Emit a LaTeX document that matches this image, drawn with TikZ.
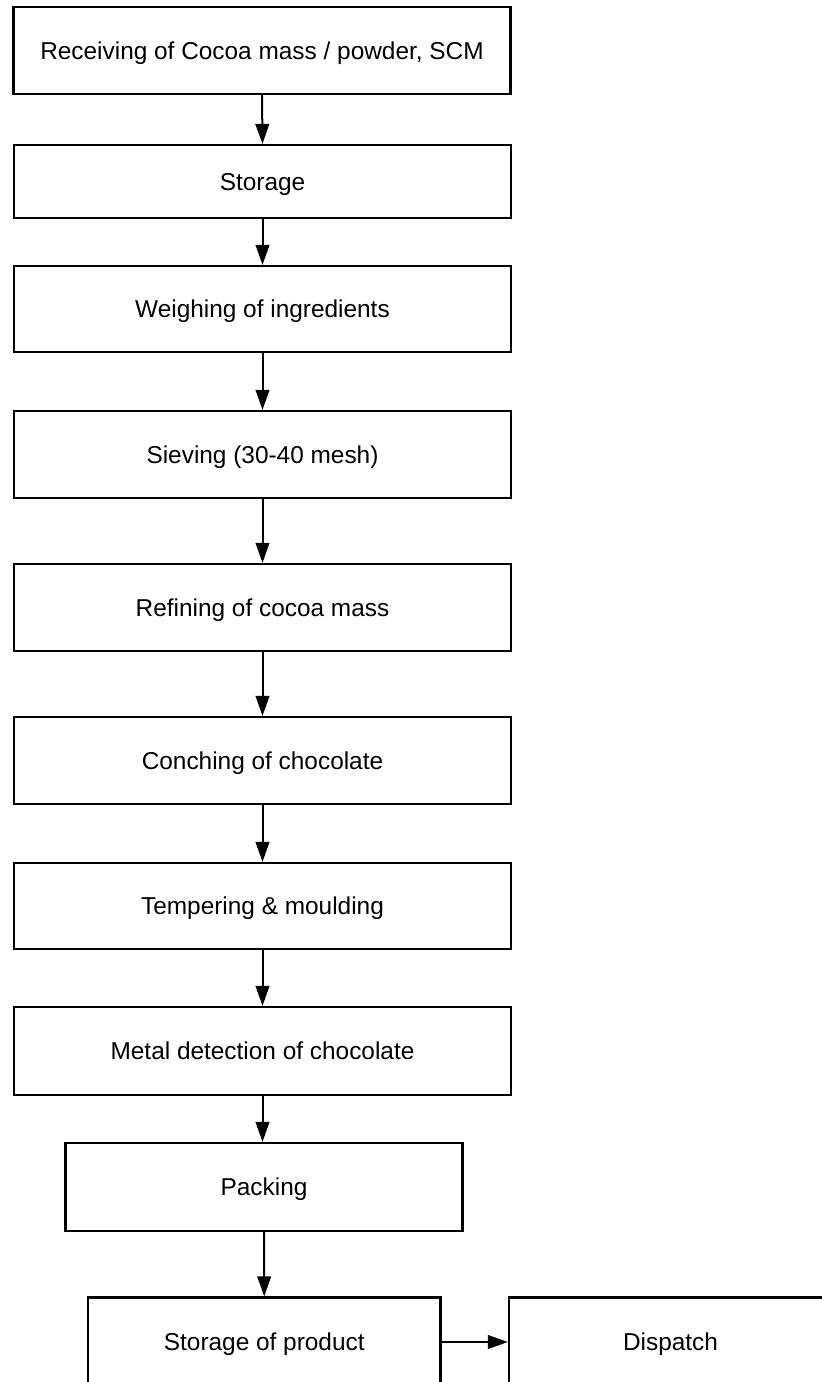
\documentclass[tikz,border=0pt]{standalone}
\usepackage{fontspec}
\setmainfont{Liberation Sans}
\usetikzlibrary{arrows.meta}
\begin{document}
\begin{tikzpicture}[x=0.5pt,y=-0.5pt,
  stepbox/.style={draw, line width=1.1pt, rectangle, inner sep=0pt, align=center,
    text height=8.8pt, text depth=0pt,
    font=\fontsize{12.2pt}{14pt}\selectfont},
  flow/.style={line width=1pt, -{Triangle[length=10pt,width=6.8pt]}}]
\useasboundingbox (0,0) rectangle (822,1382);
\clip (0,0) rectangle (822,1382);

% process steps
\node[stepbox, minimum width=248.5pt, minimum height=43.5pt] (recv) at (262,50.5) {Receiving of Cocoa mass / powder, SCM};
\node[stepbox, minimum width=248.5pt, minimum height=36.5pt] (stor) at (262.5,181.5) {Storage};
\node[stepbox, minimum width=248.5pt, minimum height=43pt] (weigh) at (262.5,309) {Weighing of ingredients};
\node[stepbox, minimum width=248.5pt, minimum height=43.5pt] (sieve) at (262.5,454.5) {Sieving (30-40 mesh)};
\node[stepbox, minimum width=248.5pt, minimum height=43.5pt] (refine) at (262.5,607.5) {Refining of cocoa mass};
\node[stepbox, minimum width=248.5pt, minimum height=43.5pt] (conch) at (262.5,760.5) {Conching of chocolate};
\node[stepbox, minimum width=248.5pt, minimum height=43pt] (temper) at (262.5,906) {Tempering \& moulding};
\node[stepbox, minimum width=248.5pt, minimum height=44pt] (metal) at (262.5,1051) {Metal detection of chocolate};
\node[stepbox, minimum width=198.5pt, minimum height=44pt] (pack) at (264,1187) {Packing};
\node[stepbox, minimum width=176.25pt, minimum height=44.5pt] (prod) at (264.25,1342) {Storage of product};
\node[stepbox, minimum width=161.5pt, minimum height=44.5pt] (disp) at (670.5,1342) {Dispatch};

% connectors
\draw[flow] (recv.south) -- (stor.north);
\draw[flow] (stor.south) -- (weigh.north);
\draw[flow] (weigh.south) -- (sieve.north);
\draw[flow] (sieve.south) -- (refine.north);
\draw[flow] (refine.south) -- (conch.north);
\draw[flow] (conch.south) -- (temper.north);
\draw[flow] (temper.south) -- (metal.north);
\draw[flow] (metal.south) -- (metal.south |- pack.north);
\draw[flow] (pack.south) -- (prod.north);
\draw[flow] (prod.east) -- (disp.west);
\end{tikzpicture}
\end{document}
